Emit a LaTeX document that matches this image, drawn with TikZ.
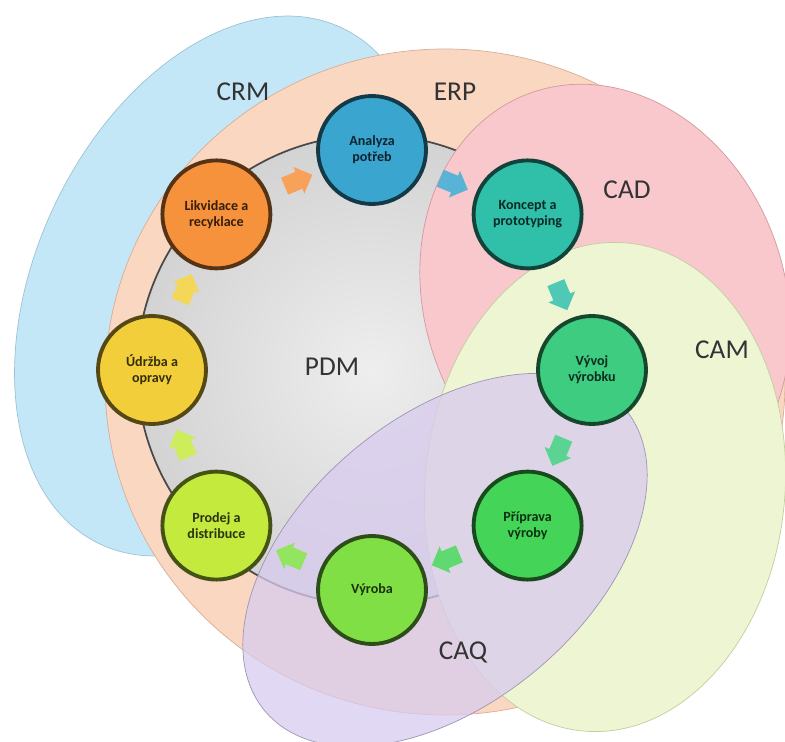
\documentclass[tikz,border=0pt]{standalone}
\usepackage{fontspec}
\setmainfont{Carlito}
\usepackage{tikz}
\usetikzlibrary{shapes,arrows,calc}
\definecolor{crmfill}{HTML}{C3E7F7}
\definecolor{crmline}{HTML}{9CC3D3}
\definecolor{erpfill}{HTML}{FAD7C0}
\definecolor{erpline}{HTML}{D8AE98}
\definecolor{pdminner}{HTML}{EEEEEE}
\definecolor{pdmfill}{HTML}{D3D3D3}
\definecolor{pdmline}{HTML}{4A4A4A}
\definecolor{cadfill}{HTML}{F8C8CC}
\definecolor{cadline}{HTML}{D39A9E}
\definecolor{camfill}{HTML}{EEF5D3}
\definecolor{camline}{HTML}{C3CE9E}
\definecolor{caqfill}{HTML}{D8CBEF}
\definecolor{caqline}{HTML}{9E94B4}
\definecolor{analyza}{HTML}{3AA6CF}
\definecolor{koncept}{HTML}{30BFA8}
\definecolor{vyvoj}{HTML}{3ECC80}
\definecolor{priprava}{HTML}{44D457}
\definecolor{vyroba}{HTML}{80DF45}
\definecolor{prodej}{HTML}{C5EA3E}
\definecolor{udrzba}{HTML}{F2CF3A}
\definecolor{likvidace}{HTML}{F6923B}
\tikzset{
  stage/.style={circle, minimum size=2.16cm, inner sep=0pt, line width=2.2pt,
    fill=#1, draw=#1!35!black, text=#1!22!black, align=center,
    font=\bfseries\fontsize{8}{9}\selectfont},
  flow/.style={single arrow, fill=#1!85!white, draw=none, inner sep=5pt,
    minimum height=17pt, single arrow head extend=3pt,
    single arrow head indent=0pt},
  systemname/.style={text=black!80, font=\fontsize{15.5}{18}\selectfont}
}
\begin{document}
\begin{tikzpicture}[x=0.02cm, y=0.02cm]
   \useasboundingbox (0,0) rectangle (785,-742);
   \clip (0,0) rectangle (785,-742);
   \fill[white] (0,0) rectangle (785,-742);
   \filldraw[fill=crmfill, draw=crmline, rotate around={65:(221,-286)}] (221,-286) ellipse [x radius=285, y radius=185];
   \filldraw[fill=erpfill, draw=erpline] (445,-382) ellipse [x radius=340, y radius=333];
   \shade[inner color=pdminner, outer color=pdmfill] (372,-370) circle (235);
   \draw[pdmline, line width=1pt] (372,-370) circle (235);
   \filldraw[fill=cadfill, draw=cadline, rotate around={20:(605,-300)}] (605,-300) ellipse [x radius=180, y radius=220];
   \filldraw[fill=camfill, draw=camline, rotate around={-5:(605,-487)}] (605,-487) ellipse [x radius=180, y radius=245];
   \filldraw[fill=caqfill, fill opacity=0.75, draw=caqline, rotate around={40:(445,-560)}] (445,-560) ellipse [x radius=235, y radius=143];
   \node[systemname] (crm) at (243,-92) {CRM};
   \node[systemname] (erp) at (455,-92) {ERP};
   \node[systemname] (cad) at (627,-190) {CAD};
   \node[systemname] (cam) at (722,-350) {CAM};
   \node[systemname] (pdm) at (332,-367) {PDM};
   \node[systemname] (caq) at (463,-652) {CAQ};
   \node[stage=analyza] (analyza) at (372,-150) {Analyza\\potřeb};
   \node[stage=koncept] (koncept) at (527.6,-214.4) {Koncept a\\prototyping};
   \node[stage=vyvoj] (vyvoj) at (592,-370) {Vývoj\\výrobku};
   \node[stage=priprava] (priprava) at (527.6,-525.6) {Příprava\\výroby};
   \node[stage=vyroba] (vyroba) at (372,-590) {Výroba};
   \node[stage=prodej] (prodej) at (216.4,-525.6) {Prodej a\\distribuce};
   \node[stage=udrzba] (udrzba) at (152,-370) {Údržba a\\opravy};
   \node[stage=likvidace] (likvidace) at (216.4,-214.4) {Likvidace a\\recyklace};
   \node[flow=likvidace, rotate=22.5] (f1) at ($(likvidace)!0.5!(analyza)$) {};
   \node[flow=analyza, rotate=-22.5] (f2) at ($(analyza)!0.5!(koncept)$) {};
   \node[flow=koncept, rotate=-67.5] (f3) at ($(koncept)!0.5!(vyvoj)$) {};
   \node[flow=vyvoj, rotate=-112.5] (f4) at ($(vyvoj)!0.5!(priprava)$) {};
   \node[flow=priprava, rotate=-157.5] (f5) at ($(priprava)!0.5!(vyroba)$) {};
   \node[flow=vyroba, rotate=157.5] (f6) at ($(vyroba)!0.5!(prodej)$) {};
   \node[flow=prodej, rotate=112.5] (f7) at ($(prodej)!0.5!(udrzba)$) {};
   \node[flow=udrzba, rotate=67.5] (f8) at ($(udrzba)!0.5!(likvidace)$) {};
\end{tikzpicture}
\end{document}
